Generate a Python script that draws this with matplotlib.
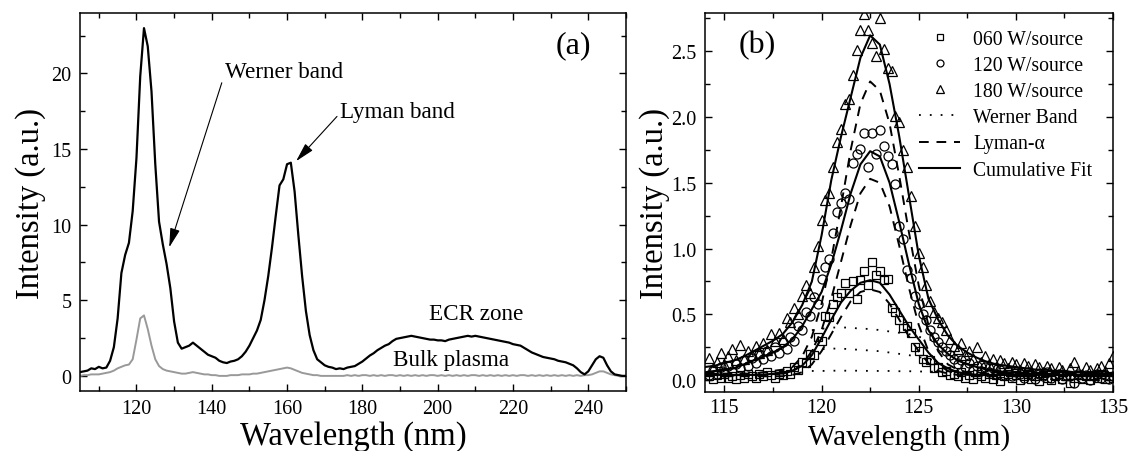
import numpy as np
import matplotlib
matplotlib.use("Agg")
import matplotlib.pyplot as plt
from matplotlib.lines import Line2D
from matplotlib.ticker import MultipleLocator

plt.rcParams['font.family'] = ['Liberation Serif', 'DejaVu Serif']
plt.rcParams['mathtext.fontset'] = 'stix'

# ---- panel (a): VUV spectra, 1 nm steps ----
wl_a = np.arange(105, 251)
ecr_zone = [
    0.25, 0.3, 0.35, 0.5, 0.45, 0.6, 0.5, 0.55, 1.0, 1.9,
    3.8, 6.8, 8.0, 8.8, 10.9, 14.4, 19.8, 23.0, 21.8, 18.8,
    14.0, 10.2, 8.7, 7.4, 5.8, 3.6, 2.2, 1.8, 1.9, 2.0,
    2.2, 2.0, 1.8, 1.6, 1.4, 1.3, 1.2, 1.0, 0.9, 0.85,
    0.95, 1.0, 1.1, 1.3, 1.6, 2.0, 2.5, 3.0, 3.7, 5.0,
    6.6, 8.5, 10.6, 12.6, 13.0, 14.0, 14.1, 12.2, 9.3, 6.6,
    4.3, 2.7, 1.7, 1.1, 0.9, 0.7, 0.6, 0.55, 0.45, 0.5,
    0.45, 0.55, 0.6, 0.65, 0.8, 0.95, 1.15, 1.35, 1.5, 1.7,
    1.85, 2.0, 2.1, 2.3, 2.45, 2.5, 2.55, 2.6, 2.65, 2.6,
    2.55, 2.5, 2.45, 2.4, 2.4, 2.35, 2.35, 2.3, 2.4, 2.45,
    2.5, 2.55, 2.6, 2.65, 2.6, 2.65, 2.6, 2.55, 2.5, 2.45,
    2.4, 2.35, 2.3, 2.25, 2.2, 2.1, 2.05, 2.0, 1.85, 1.7,
    1.55, 1.45, 1.35, 1.25, 1.2, 1.15, 1.1, 1.0, 0.95, 0.9,
    0.8, 0.7, 0.5, 0.25, 0.1, 0.3, 0.7, 1.1, 1.3, 1.2,
    0.7, 0.3, 0.1, 0.05, 0.0, 0.0,
]
bulk_plasma = [
    0.0, 0.05, 0.05, 0.1, 0.1, 0.1, 0.15, 0.2, 0.25, 0.35,
    0.5, 0.6, 0.7, 0.75, 1.1, 2.4, 3.8, 4.0, 3.1, 2.0,
    1.1, 0.65, 0.45, 0.35, 0.3, 0.25, 0.2, 0.15, 0.15, 0.2,
    0.25, 0.2, 0.15, 0.1, 0.1, 0.05, 0.05, 0.0, 0.0, 0.0,
    0.05, 0.05, 0.05, 0.1, 0.1, 0.1, 0.15, 0.15, 0.2, 0.25,
    0.3, 0.35, 0.4, 0.45, 0.5, 0.55, 0.5, 0.4, 0.3, 0.2,
    0.15, 0.1, 0.05, 0.05, 0.0, 0.0, 0.0, 0.0, 0.0, 0.0,
    0.0, 0.05, 0.0, 0.05, 0.0, 0.05, 0.05, 0.0, 0.05, 0.0,
    0.05, 0.0, 0.05, 0.05, 0.0, 0.05, 0.0, 0.05, 0.0, 0.05,
    0.0, 0.05, 0.0, 0.05, 0.05, 0.0, 0.05, 0.0, 0.05, 0.0,
    0.05, 0.0, 0.05, 0.0, 0.05, 0.05, 0.0, 0.05, 0.0, 0.05,
    0.0, 0.05, 0.0, 0.05, 0.0, 0.05, 0.0, 0.05, 0.05, 0.0,
    0.05, 0.0, 0.05, 0.0, 0.05, 0.0, 0.05, 0.0, 0.05, 0.0,
    0.05, 0.0, 0.05, 0.0, 0.05, 0.05, 0.1, 0.2, 0.3, 0.3,
    0.2, 0.1, 0.05, 0.0, 0.0, 0.0,
]

# ---- panel (b): Lyman-alpha region ----
wl_pts = np.round(np.arange(114.2, 135.01, 0.2), 1)
pts_060 = [
    0.03, 0.01, 0.04, 0.02, 0.05, 0.02, 0.03, 0.01, 0.04, 0.02,
    0.05, 0.03, 0.02, 0.05, 0.03, 0.06, 0.04, 0.02, 0.05, 0.04,
    0.07, 0.05, 0.10, 0.08, 0.14, 0.13, 0.20, 0.19, 0.33, 0.30,
    0.49, 0.48, 0.58, 0.63, 0.66, 0.74, 0.66, 0.75, 0.62, 0.76,
    0.83, 0.72, 0.90, 0.80, 0.83, 0.76, 0.77, 0.55, 0.52, 0.46,
    0.40, 0.41, 0.36, 0.25, 0.22, 0.16, 0.14, 0.15, 0.09, 0.10,
    0.06, 0.07, 0.04, 0.05, 0.03, 0.06, 0.02, 0.04, 0.01, 0.05,
    0.03, 0.02, 0.05, 0.01, 0.04, -0.01, 0.03, 0.05, 0.02, 0.04,
    0.00, 0.03, 0.05, 0.01, 0.03, -0.01, 0.04, 0.02, 0.00, 0.03,
    0.05, 0.01, 0.03, -0.02, 0.02, 0.04, 0.01, 0.03, 0.00, 0.04,
    0.02, 0.05, 0.01, 0.03, 0.02,
]
pts_120 = [
    0.04, 0.08, 0.05, 0.10, 0.06, 0.11, 0.07, 0.12, 0.09, 0.15,
    0.11, 0.17, 0.13, 0.20, 0.16, 0.22, 0.18, 0.25, 0.21, 0.29,
    0.24, 0.33, 0.30, 0.41, 0.38, 0.52, 0.49, 0.63, 0.58, 0.77,
    0.86, 0.92, 1.12, 1.28, 1.35, 1.42, 1.38, 1.65, 1.72, 1.76,
    1.88, 1.62, 1.88, 1.72, 1.90, 1.78, 1.70, 1.64, 1.49, 1.17,
    1.07, 0.84, 0.78, 0.64, 0.58, 0.50, 0.46, 0.38, 0.33, 0.29,
    0.25, 0.22, 0.19, 0.16, 0.12, 0.15, 0.10, 0.13, 0.08, 0.11,
    0.07, 0.10, 0.06, 0.09, 0.05, 0.08, 0.04, 0.07, 0.03, 0.06,
    0.05, 0.02, 0.06, 0.04, 0.01, 0.05, 0.03, 0.06, 0.02, 0.04,
    0.05, 0.01, 0.04, 0.03, -0.02, 0.05, 0.02, 0.04, 0.00, 0.03,
    0.05, 0.02, 0.04, 0.01, 0.03,
]
pts_180 = [
    0.17, 0.09, 0.14, 0.21, 0.12, 0.18, 0.24, 0.15, 0.27, 0.16,
    0.22, 0.19, 0.26, 0.21, 0.28, 0.23, 0.35, 0.30, 0.36, 0.31,
    0.47, 0.44, 0.55, 0.50, 0.64, 0.72, 0.66, 0.86, 1.02, 1.22,
    1.37, 1.42, 1.62, 1.81, 1.91, 2.10, 2.14, 2.32, 2.51, 2.66,
    2.78, 2.66, 2.56, 2.46, 2.75, 2.52, 2.37, 2.35, 2.01, 1.96,
    1.75, 1.62, 1.40, 1.17, 0.97, 0.86, 0.72, 0.60, 0.52, 0.47,
    0.44, 0.38, 0.31, 0.26, 0.24, 0.28, 0.19, 0.22, 0.16, 0.25,
    0.14, 0.18, 0.12, 0.16, 0.10, 0.15, 0.13, 0.09, 0.14, 0.12,
    0.08, 0.13, 0.11, 0.07, 0.12, 0.10, 0.06, 0.11, 0.09, 0.05,
    0.10, 0.08, 0.04, 0.09, 0.14, 0.07, 0.05, 0.10, 0.08, 0.04,
    0.09, 0.11, 0.07, 0.13, 0.18,
]

# fitted curves, 0.5 nm steps
wl_fit = np.round(np.arange(114.0, 135.01, 0.5), 1)
fit_060 = [0.04, 0.04, 0.04, 0.04, 0.04, 0.04, 0.04, 0.05, 0.05,
           0.07, 0.11, 0.19, 0.32, 0.46, 0.59, 0.68, 0.74, 0.76, 0.74,
           0.65, 0.53, 0.41, 0.31, 0.21, 0.13, 0.09, 0.06, 0.05, 0.04,
           0.04, 0.04, 0.04, 0.04, 0.04, 0.04, 0.04, 0.04, 0.04, 0.04, 0.04, 0.04, 0.04, 0.04]
fit_120 = [0.06, 0.07, 0.08, 0.09, 0.12, 0.15, 0.18, 0.21, 0.25,
           0.31, 0.41, 0.54, 0.67, 0.88, 1.14, 1.42, 1.64, 1.74, 1.70,
           1.50, 1.20, 0.88, 0.58, 0.38, 0.27, 0.20, 0.15, 0.12, 0.10,
           0.08, 0.07, 0.06, 0.06, 0.05, 0.05, 0.05, 0.04, 0.04, 0.04, 0.04, 0.04, 0.04, 0.04]
fit_180 = [0.10, 0.11, 0.13, 0.15, 0.18, 0.22, 0.26, 0.30, 0.35,
           0.44, 0.57, 0.75, 1.10, 1.52, 1.85, 2.15, 2.45, 2.62, 2.55,
           2.25, 1.85, 1.40, 0.95, 0.62, 0.46, 0.34, 0.26, 0.21, 0.17,
           0.14, 0.12, 0.11, 0.10, 0.09, 0.08, 0.08, 0.07, 0.07, 0.06, 0.06, 0.06, 0.05, 0.05]
lya_060 = [0.03, 0.03, 0.03, 0.03, 0.03, 0.03, 0.03, 0.03, 0.03,
           0.04, 0.06, 0.12, 0.22, 0.35, 0.48, 0.60, 0.67, 0.69, 0.67,
           0.58, 0.46, 0.33, 0.22, 0.13, 0.07, 0.05, 0.04, 0.03, 0.03,
           0.03, 0.03, 0.03, 0.03, 0.03, 0.03, 0.03, 0.03, 0.03, 0.03, 0.03, 0.03, 0.03, 0.03]
lya_120 = [0.04, 0.04, 0.04, 0.04, 0.04, 0.04, 0.04, 0.05, 0.06,
           0.07, 0.12, 0.22, 0.38, 0.62, 0.90, 1.18, 1.42, 1.53, 1.50,
           1.32, 1.02, 0.70, 0.42, 0.22, 0.12, 0.07, 0.05, 0.04, 0.04,
           0.04, 0.04, 0.04, 0.04, 0.04, 0.04, 0.04, 0.04, 0.04, 0.04, 0.04, 0.04, 0.04, 0.04]
lya_180 = [0.05, 0.05, 0.05, 0.05, 0.05, 0.05, 0.06, 0.07, 0.08,
           0.10, 0.18, 0.33, 0.58, 0.92, 1.32, 1.75, 2.10, 2.27, 2.20,
           1.95, 1.55, 1.12, 0.72, 0.42, 0.22, 0.12, 0.08, 0.06, 0.05,
           0.05, 0.05, 0.05, 0.05, 0.05, 0.05, 0.05, 0.05, 0.05, 0.05, 0.05, 0.05, 0.05, 0.05]

wl_wer = np.round(np.arange(119.5, 126.01, 0.5), 1)
wer_060 = [0.07, 0.07, 0.072, 0.072, 0.072, 0.072, 0.07, 0.07, 0.07, 0.068, 0.068, 0.066, 0.065, 0.064]
wer_120 = [0.23, 0.235, 0.24, 0.24, 0.235, 0.23, 0.225, 0.22, 0.21, 0.20, 0.19, 0.175, 0.16, 0.15]
wer_180 = [0.38, 0.39, 0.40, 0.40, 0.40, 0.39, 0.39, 0.38, 0.37, 0.36, 0.35, 0.33, 0.31, 0.29]

fig = plt.figure(figsize=(11.28, 4.52), dpi=100)
ax1 = fig.add_axes([0.0709, 0.1327, 0.484, 0.8363])
ax2 = fig.add_axes([0.625, 0.1305, 0.3617, 0.8385])

# panel (a)
ax1.plot(wl_a, bulk_plasma, color='0.6', lw=1.4)
ax1.plot(wl_a, ecr_zone, color='black', lw=1.6)
ax1.set_xlim(105, 250)
ax1.set_ylim(-1, 24)
ax1.xaxis.set_major_locator(MultipleLocator(20))
ax1.xaxis.set_minor_locator(MultipleLocator(10))
ax1.yaxis.set_major_locator(MultipleLocator(5))
ax1.yaxis.set_minor_locator(MultipleLocator(2.5))
ax1.set_xlabel('Wavelength (nm)', fontsize=23.5, labelpad=1)
ax1.set_ylabel('Intensity (a.u.)', fontsize=23.5, labelpad=4)
ax1.text(236, 21.9, '(a)', fontsize=23, ha='center', va='center')
arrow = dict(arrowstyle='-|>,head_length=0.7,head_width=0.18', color='black', lw=0.8)
ax1.annotate('Werner band', xy=(128.7, 8.5), xytext=(143.4, 20.1), fontsize=16.7,
             ha='left', va='center', arrowprops=dict(arrow, shrinkA=0, shrinkB=0, relpos=(0, 0.4)))
ax1.annotate('Lyman band', xy=(162.4, 14.2), xytext=(174, 17.5), fontsize=16.7,
             ha='left', va='center', arrowprops=dict(arrow, shrinkA=0, shrinkB=0, relpos=(0, 0.4)))
ax1.text(210.1, 4.1, 'ECR zone', fontsize=16.7, ha='center', va='center')
ax1.text(203.6, 1.06, 'Bulk plasma', fontsize=16.7, ha='center', va='center')

# panel (b)
mk = dict(linestyle='none', markerfacecolor='none', markeredgecolor='black', markeredgewidth=0.9)
ax2.plot(wl_pts, pts_060, marker='s', markersize=6, **mk)
ax2.plot(wl_pts, pts_120, marker='o', markersize=6.5, **mk)
ax2.plot(wl_pts, pts_180, marker='^', markersize=7.5, **mk)
for w in (wer_060, wer_120, wer_180):
    ax2.plot(wl_wer, w, color='black', lw=1.3, linestyle=(0, (1, 5)))
for l in (lya_060, lya_120, lya_180):
    ax2.plot(wl_fit, l, color='black', lw=1.4, linestyle=(0, (5, 4)))
for f in (fit_060, fit_120, fit_180):
    ax2.plot(wl_fit, f, color='black', lw=1.5)
ax2.set_xlim(114, 135)
ax2.set_ylim(-0.09, 2.79)
ax2.xaxis.set_major_locator(MultipleLocator(5))
ax2.xaxis.set_minor_locator(MultipleLocator(2.5))
ax2.yaxis.set_major_locator(MultipleLocator(0.5))
ax2.yaxis.set_minor_locator(MultipleLocator(0.25))
ax2.yaxis.set_major_formatter(plt.FormatStrFormatter('%.1f'))
ax2.set_xlabel('Wavelength (nm)', fontsize=21)
ax2.xaxis.label.set_va('bottom')
ax2.xaxis.set_label_coords(0.5, -0.153)
ax2.set_ylabel('Intensity (a.u.)', fontsize=23.5, labelpad=1)
ax2.text(116.7, 2.55, '(b)', fontsize=23, ha='center', va='center')

handles = [
    Line2D([], [], marker='s', markersize=5, **mk),
    Line2D([], [], marker='o', markersize=5, **mk),
    Line2D([], [], marker='^', markersize=6, **mk),
    Line2D([], [], color='black', lw=1.3, linestyle=(0, (1, 5))),
    Line2D([], [], color='black', lw=1.4, linestyle=(0, (5, 4))),
    Line2D([], [], color='black', lw=1.5),
]
labels = ['060 W/source', '120 W/source', '180 W/source', 'Werner Band',
          'Lyman-\u03b1', 'Cumulative Fit']
ax2.legend(handles, labels, loc='upper left', bbox_to_anchor=(0.525, 0.955), frameon=False,
           fontsize=14.2, handlelength=2.06, handletextpad=0.67, labelspacing=0.36,
           borderpad=0, borderaxespad=0)

for ax in (ax1, ax2):
    ax.tick_params(which='both', direction='in', top=True, right=True, labelsize=14.5, width=1)
    ax.tick_params(which='major', length=5, pad=6)
    ax.tick_params(which='minor', length=3.5)
    for s in ax.spines.values():
        s.set_linewidth(1.1)
ax2.tick_params(axis='x', which='major', pad=4)

fig.savefig('out.png', dpi=100)
